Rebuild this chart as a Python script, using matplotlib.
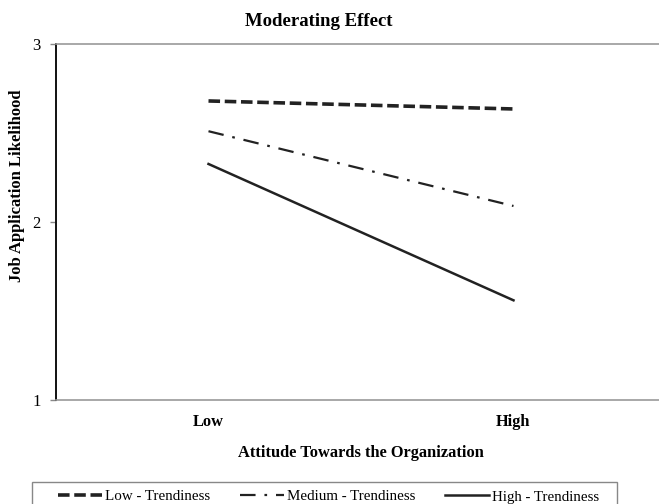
import matplotlib
matplotlib.use("Agg")
import matplotlib.pyplot as plt
from matplotlib.patches import Rectangle

categories = ["Low", "High"]
low_trend = [2.68, 2.635]
med_trend = [2.51, 2.09]
high_trend = [2.326, 1.56]
series_labels = ["Low - Trendiness", "Medium - Trendiness", "High - Trendiness"]
yticks = [1, 2, 3]

plt.rcParams['font.family'] = ['Liberation Serif', 'DejaVu Serif']

W, H = 659, 504
fig = plt.figure(figsize=(W/100, H/100), dpi=100)
ax = fig.add_axes([56/W, 1-400/H, (666-56)/W, (400-44)/H])

x = list(range(len(categories)))
l1, = ax.plot(x, low_trend, color='#222222', lw=2.6, dashes=(3.2, 1.3))
l2, = ax.plot(x, med_trend, color='#222222', lw=1.6, dashes=(7, 4, 1.2, 4))
l3, = ax.plot(x, high_trend, color='#222222', lw=1.8)

ax.set_xlim(-0.5, 1.5)
ax.set_ylim(1, 3)
ax.set_yticks(yticks)
ax.set_yticklabels([str(v) for v in yticks], fontsize=12)
ax.set_xticks(x)
ax.set_xticklabels(categories, fontsize=11.8, fontweight='bold')
ax.tick_params(axis='x', length=0, pad=10)
ax.tick_params(axis='y', length=4, width=1, color='#888888', pad=7)

for s in ['top', 'bottom']:
    ax.spines[s].set_color('#999999')
    ax.spines[s].set_linewidth(1.2)
ax.spines['right'].set_visible(False)
ax.spines['left'].set_color('#111111')
ax.spines['left'].set_linewidth(1.4)

fig.text(319/W, 1-21/H, "Moderating Effect", fontsize=13.5, fontweight='bold',
         ha='center', va='center')
ax.set_xlabel("Attitude Towards the Organization", fontsize=11.8, fontweight='bold', labelpad=11)
ax.set_ylabel("Job Application Likelihood", fontsize=12, fontweight='bold')
ax.yaxis.set_label_coords((25-56)/(666-56), (400-186)/356)

fig.patches.append(Rectangle((32/W, -0.05), (617-32)/W, 0.05+1-482/H,
                             transform=fig.transFigure, fill=False,
                             edgecolor='#888888', linewidth=1.0))

leg = fig.legend([l1, l2, l3], series_labels, loc='upper left',
                 bbox_to_anchor=(58/W, 1-490/H), ncol=3, fontsize=10.8,
                 frameon=False, handlelength=2.95, handletextpad=0.2,
                 columnspacing=1.95, borderpad=0, borderaxespad=0)

fig.savefig("out.png", dpi=100)
